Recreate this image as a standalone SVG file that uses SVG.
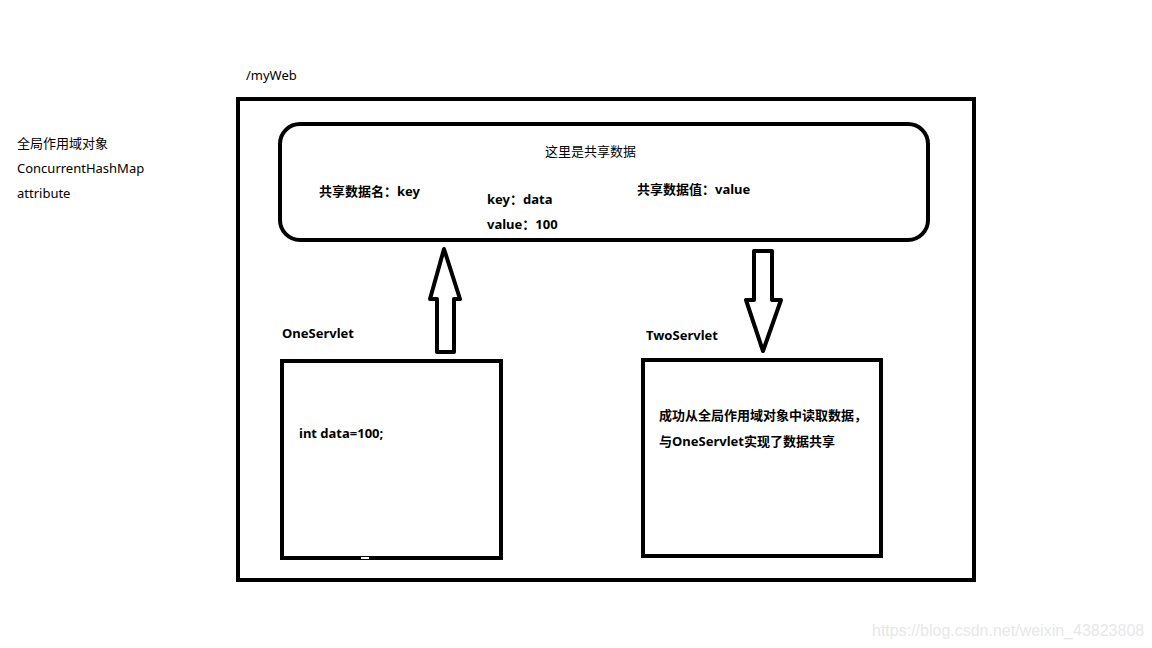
<svg xmlns="http://www.w3.org/2000/svg" width="1152" height="648" viewBox="0 0 1152 648">
<style>
.t{font-family:"Noto Sans","Noto Sans CJK SC",sans-serif;font-size:13px;fill:#000}
.b{font-weight:bold}
.box{fill:none;stroke:#000;stroke-width:4}
.arr{fill:#fff;stroke:#000;stroke-width:4;stroke-linejoin:round}
</style>
<rect width="1152" height="648" fill="#fff"/>
<g id="legend">
<text class="t" x="17" y="148">全局作用域对象</text>
<text class="t" x="17" y="173">ConcurrentHashMap</text>
<text class="t" x="17" y="198">attribute</text>
</g>
<g id="myWeb">
<text class="t" x="246" y="80">/myWeb</text>
<rect class="box" x="238" y="99" width="736" height="481"/>
</g>
<g id="shared">
<rect class="box" x="280" y="124" width="648" height="116" rx="20" ry="20"/>
<text class="t" x="545" y="156">这里是共享数据</text>
<text class="t b" x="319" y="196">共享数据名：key</text>
<text class="t b" x="487" y="204">key：data</text>
<text class="t b" x="487" y="229">value：100</text>
<text class="t b" x="637" y="194">共享数据值：value</text>
</g>
<g id="oneServlet">
<text class="t b" x="282" y="338">OneServlet</text>
<rect class="box" x="282" y="361" width="219" height="197"/>
<line x1="361" y1="558" x2="369" y2="558" stroke="#fff" stroke-width="2"/>
<text class="t b" x="299" y="438">int data=100;</text>
</g>
<g id="twoServlet">
<text class="t b" x="646" y="340">TwoServlet</text>
<rect class="box" x="643" y="360" width="238" height="196"/>
<text class="t b" x="659" y="420">成功从全局作用域对象中读取数据，</text>
<text class="t b" x="659" y="446">与OneServlet实现了数据共享</text>
</g>
<g id="connectors">
<path class="arr" d="M437 352 L437 299 L430 299 L444 249 L460 299 L454 299 L454 352 Z"/>
<path class="arr" d="M754 251 L772 251 L772 300 L781 300 L763 351 L746 300 L754 300 Z"/>
</g>
<text x="872" y="636" style="font-family:'Liberation Sans',sans-serif;font-size:16px;fill:#e8e8e8">https://blog.csdn.net/weixin_43823808</text>
</svg>
